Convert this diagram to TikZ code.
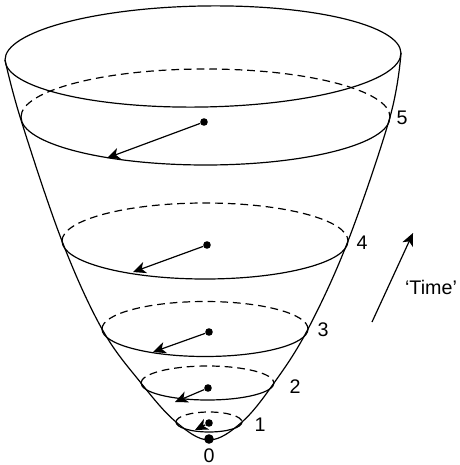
\documentclass[tikz,border=0pt]{standalone}
\usepackage{fontspec}
\setmainfont{Liberation Sans}
\usetikzlibrary{arrows.meta}
\tikzset{
  rim/.style={line width=.85pt,draw=black},
  back/.style={rim,dash pattern=on 5.5pt off 3.5pt},
  dot/.style={circle,fill=black,inner sep=0pt,minimum size=1.9mm},
  bigdot/.style={dot,minimum size=2.4mm},
  vec/.style={-{Stealth[length=3.2mm,width=2.9mm,inset=.9mm]},line width=.85pt},
  lab/.style={font=\fontsize{14}{16}\selectfont,inner sep=0pt}
}
\begin{document}
\begin{tikzpicture}[x=.25mm,y=-.25mm]
  \useasboundingbox (0,0) rectangle (459,465);
  % bowl
  \draw[rim,rotate around={1:(203,56.5)}] (203,56.5) ellipse[x radius=198,y radius=50.5];
  \draw[rim] plot[smooth,tension=.6] coordinates {(5,60) (21,120) (62,241) (102,329) (141,383) (176,422) (209,440) (242,422) (274,383) (308,329) (348,241) (390,117) (401,53)};
  % levels
  \foreach \cx/\cy/\rx/\ry in {205.5/117/184.5/48, 205/241/143/38, 205/329/103/27.5, 207.5/383/66.5/17, 209/422/33/10}{
    \draw[rim] ({\cx+\rx},\cy) arc[start angle=0,end angle=180,x radius=\rx,y radius=\ry];
    \draw[back] ({\cx-\rx},\cy) arc[start angle=180,end angle=360,x radius=\rx,y radius=\ry];
  }
  \node[dot] (d5) at (204,122) {};
  \node[dot] (d4) at (207,245) {};
  \node[dot] (d3) at (209,332) {};
  \node[dot] (d2) at (208,388) {};
  \node[dot] (d1) at (209,423) {};
  \node[bigdot] (d0) at (209,439) {};
  \coordinate (a5) at (107,158);
  \coordinate (a4) at (133,272);
  \coordinate (a3) at (153,352);
  \coordinate (a2) at (175,402);
  \coordinate (a1) at (195,430);
  \draw[vec] (d5) -- (a5);
  \draw[vec] (d4) -- (a4);
  \draw[vec] (d3) -- (a3);
  \draw[vec] (d2) -- (a2);
  \draw[vec] (d1) -- (a1);
  \node[lab] (n5) at (402,118) {5};
  \node[lab] (n4) at (362,243) {4};
  \node[lab] (n3) at (323,330) {3};
  \node[lab] (n2) at (295,387) {2};
  \node[lab] (n1) at (260,425) {1};
  \node[lab] (n0) at (209,455.5) {0};
  % time
  \coordinate (t0) at (372,322);
  \coordinate (t1) at (413,233);
  \draw[vec] (t0) -- (t1);
  \node[lab] (time) at (431,287) {‘Time’};
\end{tikzpicture}
\end{document}
